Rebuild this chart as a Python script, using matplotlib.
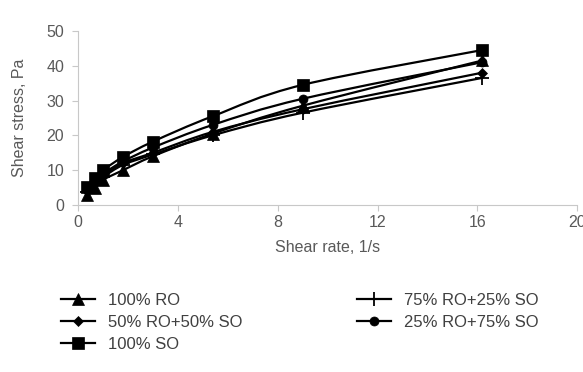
import numpy as np
import matplotlib
matplotlib.use("Agg")
import matplotlib.pyplot as plt
from matplotlib.path import Path
from matplotlib.patches import PathPatch

plt.rcParams['font.family'] = ['Liberation Sans', 'DejaVu Sans']

# shear rate, 1/s
rate = [0.34, 0.68, 1.0, 1.8, 3.0, 5.4, 9.0, 16.2]

# shear stress, Pa
ro100 = [3.0, 5.0, 7.2, 10.0, 14.0, 20.5, 28.5, 41.5]
ro75 = [3.8, 6.0, 8.0, 11.5, 14.5, 20.0, 26.5, 36.5]
ro50 = [4.0, 6.2, 8.5, 12.0, 15.0, 21.0, 27.5, 38.0]
ro25 = [4.5, 7.0, 9.0, 12.5, 16.5, 23.0, 30.5, 41.0]
so100 = [5.2, 7.8, 10.0, 13.8, 18.2, 25.5, 34.5, 44.5]

labels = ['100% RO', '75% RO+25% SO', '50% RO+50% SO', '25% RO+75% SO', '100% SO']
markers = ['^', '+', 'D', 'o', 's']
msizes = [8, 10, 5.5, 6.5, 9]
series = [ro100, ro75, ro50, ro25, so100]

grey = '#595959'


def smooth_path(x, y):
    # excel-like smoothed line: bezier through each point
    x = np.asarray(x, float)
    y = np.asarray(y, float)
    pts = np.column_stack([x, y])
    n = len(pts)
    verts = [pts[0]]
    codes = [Path.MOVETO]
    for i in range(n - 1):
        p0 = pts[i - 1] if i > 0 else pts[i]
        p1 = pts[i]
        p2 = pts[i + 1]
        p3 = pts[i + 2] if i + 2 < n else pts[i + 1]
        c1 = p1 + (p2 - p0) / 6.0
        c2 = p2 - (p3 - p1) / 6.0
        verts += [c1, c2, p2]
        codes += [Path.CURVE4] * 3
    return Path(verts, codes)


fig = plt.figure(figsize=(5.83, 3.72), dpi=100)
ax = fig.add_axes([0.134, 0.449, 0.856, 0.468])

handles = []
for ys, m, ms, lab in zip(series, markers, msizes, labels):
    ax.add_patch(PathPatch(smooth_path(rate, ys), fill=False, edgecolor='black', lw=1.6))
    mew = 1.3 if m == '+' else 0.5
    ax.plot(rate, ys, linestyle='none', marker=m, markersize=ms, color='black', mew=mew)
    h, = ax.plot([], [], color='black', lw=1.6, marker=m, markersize=ms, mew=mew, label=lab)
    handles.append(h)

ax.set_xlim(0, 20)
ax.set_ylim(0, 50)
ax.set_xticks([0, 4, 8, 12, 16, 20])
ax.set_yticks([0, 10, 20, 30, 40, 50])
for s in ['top', 'right']:
    ax.spines[s].set_visible(False)
for s in ['left', 'bottom']:
    ax.spines[s].set_color('#c8c8c8')
ax.tick_params(colors='#c8c8c8', labelcolor=grey, labelsize=11.5, length=4)
ax.tick_params(axis='y', pad=6)
ax.set_xlabel('Shear rate, 1/s', color=grey, fontsize=11.5, labelpad=7)
ax.set_ylabel('Shear stress, Pa', color=grey, fontsize=11.5, labelpad=14)

order = [0, 2, 4, 1, 3]
leg = fig.legend([handles[i] for i in order], [labels[i] for i in order],
                 ncol=2, loc='upper left', bbox_to_anchor=(0.105, 0.212),
                 frameon=False, fontsize=12, handlelength=2.0, handletextpad=0.8,
                 labelspacing=0.42, columnspacing=6.9, borderpad=0, borderaxespad=0)
for t in leg.get_texts():
    t.set_color('#404040')

fig.savefig('out.png', dpi=100)
